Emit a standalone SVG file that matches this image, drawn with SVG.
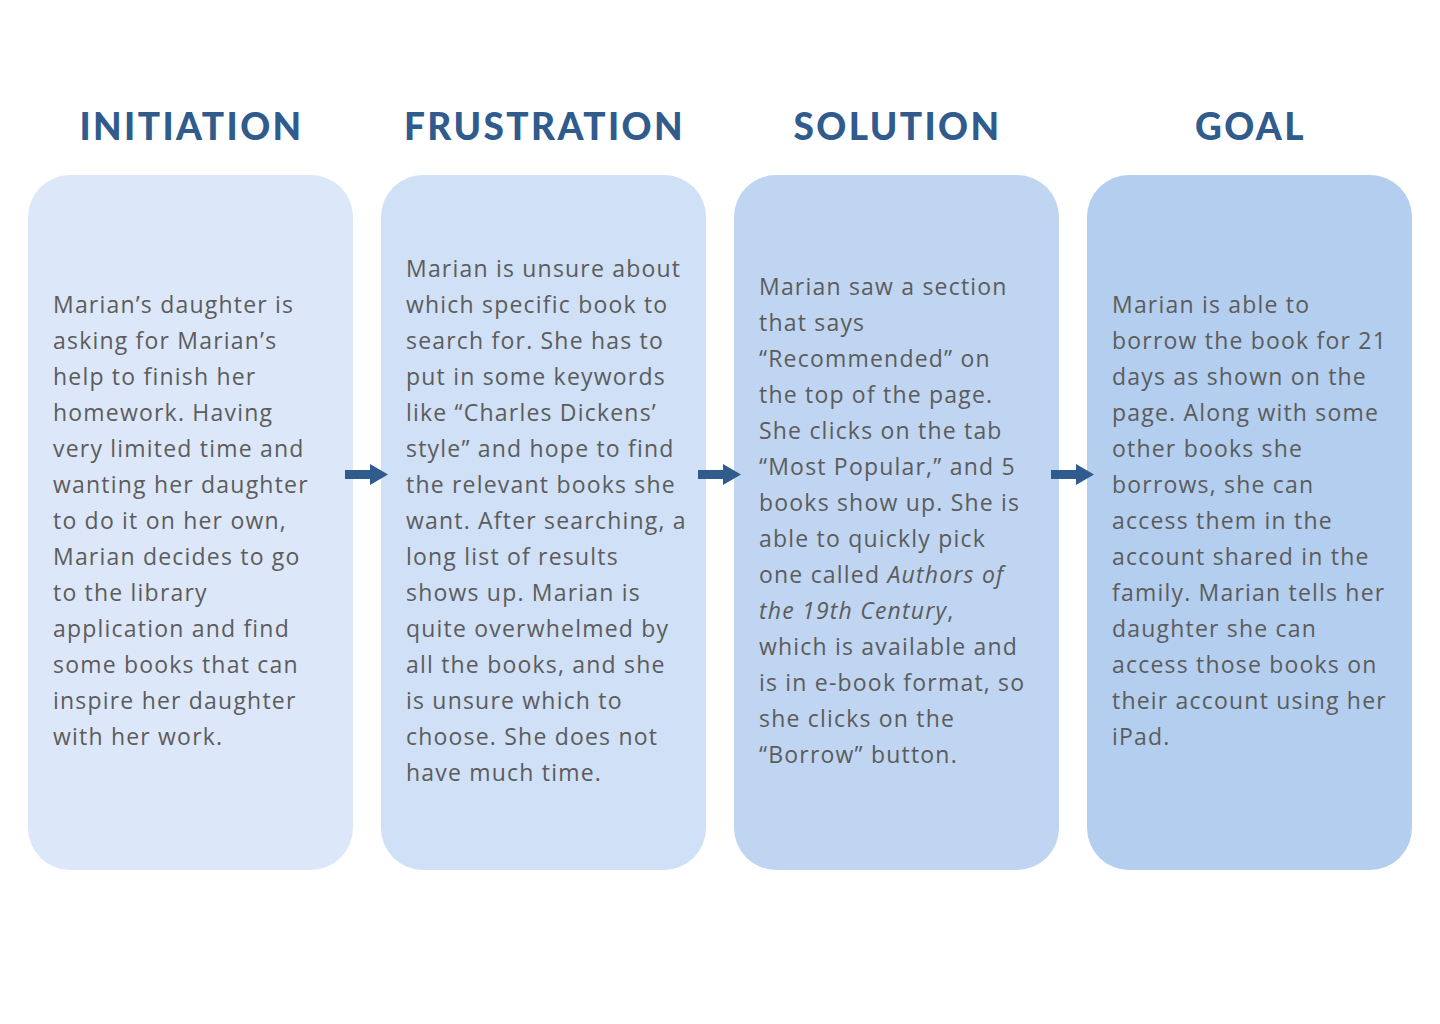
<svg xmlns="http://www.w3.org/2000/svg" width="1440" height="1024" viewBox="0 0 1440 1024">
<style>
.h{font-family:Lato,"Liberation Sans",sans-serif;font-weight:900;font-size:37px;fill:#2f5b8d;text-anchor:middle;letter-spacing:2.4px}
.t{font-family:"Open Sans","Liberation Sans",sans-serif;font-size:23px;fill:#5c5c5c;letter-spacing:1.2px}
.ar{fill:#2f5b8d}
</style>
<rect width="1440" height="1024" fill="#ffffff"/>
<g id="initiation">
<rect x="28" y="175" width="325" height="695" rx="42" fill="#dce8f9"/>
<text class="h" x="191.5" y="140">INITIATION</text>
<text class="t">
<tspan x="53" y="313">Marian’s daughter is</tspan>
<tspan x="53" y="349">asking for Marian’s</tspan>
<tspan x="53" y="385">help to finish her</tspan>
<tspan x="53" y="421">homework. Having</tspan>
<tspan x="53" y="457">very limited time and</tspan>
<tspan x="53" y="493">wanting her daughter</tspan>
<tspan x="53" y="529">to do it on her own,</tspan>
<tspan x="53" y="565">Marian decides to go</tspan>
<tspan x="53" y="601">to the library</tspan>
<tspan x="53" y="637">application and find</tspan>
<tspan x="53" y="673">some books that can</tspan>
<tspan x="53" y="709">inspire her daughter</tspan>
<tspan x="53" y="745">with her work.</tspan>
</text>
</g>
<g id="frustration">
<rect x="381" y="175" width="325" height="695" rx="42" fill="#cfe0f7"/>
<text class="h" x="544.5" y="140">FRUSTRATION</text>
<text class="t">
<tspan x="406" y="277">Marian is unsure about</tspan>
<tspan x="406" y="313">which specific book to</tspan>
<tspan x="406" y="349">search for. She has to</tspan>
<tspan x="406" y="385">put in some keywords</tspan>
<tspan x="406" y="421">like “Charles Dickens’</tspan>
<tspan x="406" y="457">style” and hope to find</tspan>
<tspan x="406" y="493">the relevant books she</tspan>
<tspan x="406" y="529">want. After searching, a</tspan>
<tspan x="406" y="565">long list of results</tspan>
<tspan x="406" y="601">shows up. Marian is</tspan>
<tspan x="406" y="637">quite overwhelmed by</tspan>
<tspan x="406" y="673">all the books, and she</tspan>
<tspan x="406" y="709">is unsure which to</tspan>
<tspan x="406" y="745">choose. She does not</tspan>
<tspan x="406" y="781">have much time.</tspan>
</text>
</g>
<g id="solution">
<rect x="734" y="175" width="325" height="695" rx="42" fill="#bfd5f1"/>
<text class="h" x="897.5" y="140">SOLUTION</text>
<text class="t">
<tspan x="759" y="295">Marian saw a section</tspan>
<tspan x="759" y="331">that says</tspan>
<tspan x="759" y="367">“Recommended” on</tspan>
<tspan x="759" y="403">the top of the page.</tspan>
<tspan x="759" y="439">She clicks on the tab</tspan>
<tspan x="759" y="475">“Most Popular,” and 5</tspan>
<tspan x="759" y="511">books show up. She is</tspan>
<tspan x="759" y="547">able to quickly pick</tspan>
<tspan x="759" y="583">one called <tspan font-style="italic">Authors of</tspan></tspan>
<tspan x="759" y="619"><tspan font-style="italic">the 19th Century</tspan>,</tspan>
<tspan x="759" y="655">which is available and</tspan>
<tspan x="759" y="691">is in e-book format, so</tspan>
<tspan x="759" y="727">she clicks on the</tspan>
<tspan x="759" y="763">“Borrow” button.</tspan>
</text>
</g>
<g id="goal">
<rect x="1087" y="175" width="325" height="695" rx="42" fill="#b3ceee"/>
<text class="h" x="1250.5" y="140">GOAL</text>
<text class="t">
<tspan x="1112" y="313">Marian is able to</tspan>
<tspan x="1112" y="349">borrow the book for 21</tspan>
<tspan x="1112" y="385">days as shown on the</tspan>
<tspan x="1112" y="421">page. Along with some</tspan>
<tspan x="1112" y="457">other books she</tspan>
<tspan x="1112" y="493">borrows, she can</tspan>
<tspan x="1112" y="529">access them in the</tspan>
<tspan x="1112" y="565">account shared in the</tspan>
<tspan x="1112" y="601">family. Marian tells her</tspan>
<tspan x="1112" y="637">daughter she can</tspan>
<tspan x="1112" y="673">access those books on</tspan>
<tspan x="1112" y="709">their account using her</tspan>
<tspan x="1112" y="745">iPad.</tspan>
</text>
</g>
<g id="connectors">
<polygon class="ar" points="345,470 370,470 370,464 388,474.5 370,485 370,479 345,479"/>
<polygon class="ar" points="698,470 723,470 723,464 741,474.5 723,485 723,479 698,479"/>
<polygon class="ar" points="1051,470 1076,470 1076,464 1094,474.5 1076,485 1076,479 1051,479"/>
</g>
</svg>
